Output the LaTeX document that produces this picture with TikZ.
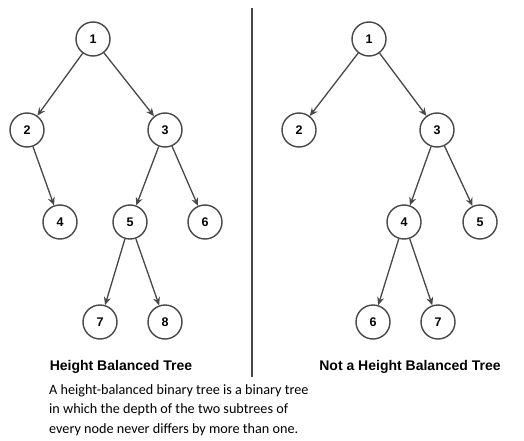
\documentclass[tikz,border=0pt]{standalone}
\usepackage{fontspec}
\setmainfont{Liberation Sans}
\newfontfamily\bodyfont{Carlito}
\usetikzlibrary{arrows.meta}
\definecolor{edgegray}{HTML}{474747}
\begin{document}
\begin{tikzpicture}[x=1pt,y=-1pt,
  tnode/.style={circle,draw=edgegray,line width=1.4pt,fill=white,minimum size=34pt,inner sep=0pt,font=\fontsize{12.5}{14}\selectfont\bfseries},
  tedge/.style={draw=edgegray,line width=1.3pt,-{Stealth[length=8pt,width=7pt]}},
  caption/.style={font=\fontsize{14}{16}\selectfont\bfseries}]
\useasboundingbox (0,0) rectangle (524,441);
% left tree
\node[tnode] (a1) at (93,39) {1};
\node[tnode] (a2) at (27,130) {2};
\node[tnode] (a3) at (165,130) {3};
\node[tnode] (a4) at (60,222) {4};
\node[tnode] (a5) at (130,222) {5};
\node[tnode] (a6) at (205,222) {6};
\node[tnode] (a7) at (100,322) {7};
\node[tnode] (a8) at (165,322) {8};
\foreach \u/\v in {a1/a2,a1/a3,a2/a4,a3/a5,a3/a6,a5/a7,a5/a8}
  \path[tedge] (\u) -- (\v);
% right tree
\node[tnode] (b1) at (369,39) {1};
\node[tnode] (b2) at (299,130) {2};
\node[tnode] (b3) at (437,130) {3};
\node[tnode] (b4) at (404,222) {4};
\node[tnode] (b5) at (480,222) {5};
\node[tnode] (b6) at (373,322) {6};
\node[tnode] (b7) at (438,322) {7};
\foreach \u/\v in {b1/b2,b1/b3,b3/b4,b3/b5,b4/b6,b4/b7}
  \path[tedge] (\u) -- (\v);
% divider
\coordinate (dtop) at (252,8);
\coordinate (dbot) at (252,377);
\draw[edgegray,line width=1.2pt] (dtop) -- (dbot);
% captions
\node[caption] (capL) at (121,367) {Height Balanced Tree};
\node[caption] (capR) at (410,367) {Not a Height Balanced Tree};
\node[anchor=north west,align=left,inner sep=0pt,font=\bodyfont\fontsize{14.2}{19.5}\selectfont] (desc) at (49,384)
  {A height-balanced binary tree is a binary tree\\in which the depth of the two subtrees of\\every node never differs by more than one.};
\end{tikzpicture}
\end{document}
